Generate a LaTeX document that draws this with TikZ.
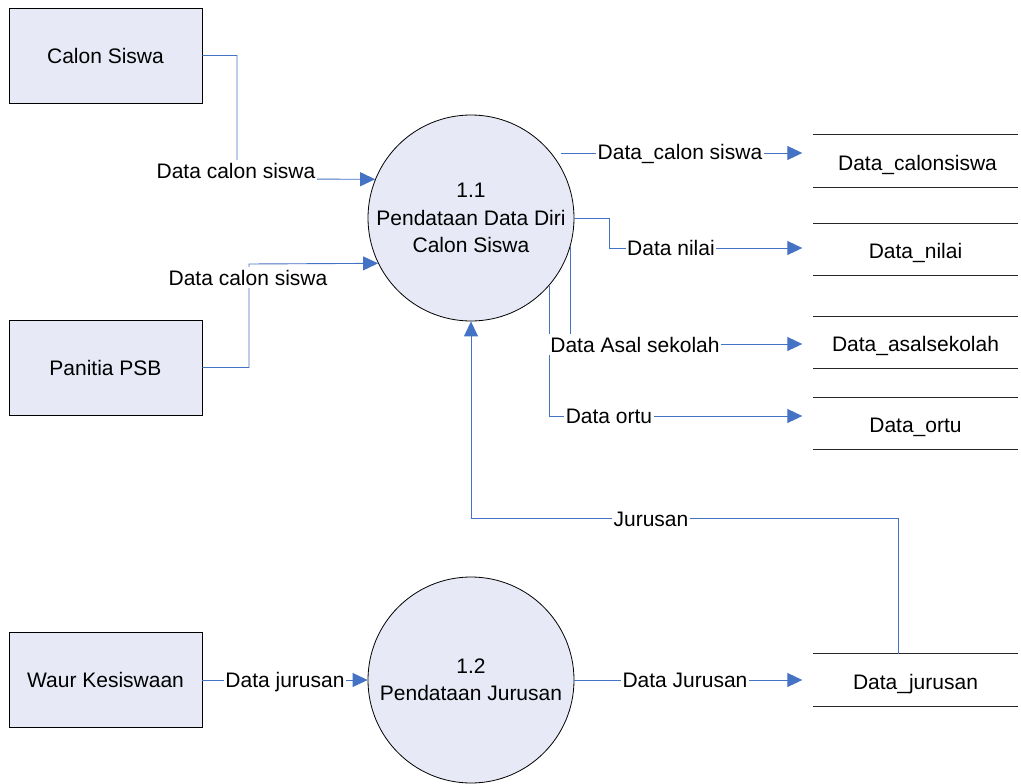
\documentclass[tikz,border=0pt]{standalone}
\usepackage{fontspec}
\setmainfont{Liberation Sans}
\usetikzlibrary{arrows.meta,calc}
\definecolor{flowblue}{RGB}{68,114,196}
\definecolor{shapefill}{RGB}{231,234,246}
\begin{document}
\begin{tikzpicture}[x=1pt,y=-1pt,
  every node/.style={font=\fontsize{21}{27.5}\selectfont},
  entity/.style={draw=black, line width=0.8pt, fill=shapefill,
    minimum width=193pt, minimum height=95pt, inner sep=0pt},
  process/.style={circle, draw=black, line width=0.8pt, fill=shapefill,
    minimum size=206pt, inner sep=0pt, align=center},
  store/.style={minimum width=205pt, minimum height=52pt, inner sep=0pt,
    text height=19pt, text depth=1pt},
  storeline/.style={line width=1.2pt, draw=black!85},
  flow/.style={draw=flowblue, line width=0.9pt,
    -{Triangle[length=15pt,width=14pt,fill=flowblue]}},
  tostore/.style={flow, shorten >=10.5pt},
  flowlabel/.style={fill=white, inner xsep=1.5pt, inner ysep=2.5pt, anchor=base},
]
\useasboundingbox (0,0) rectangle (1021,784);

% external entities
\node[entity] (cs) at (105.5,55.5)  {Calon Siswa};
\node[entity] (ps) at (105.5,367.5) {Panitia PSB};
\node[entity] (wk) at (105.5,680)   {Waur Kesiswaan};

% processes
\node[process] (c11) at (471,218) {1.1\\Pendataan Data Diri\\Calon Siswa};
\node[process] (c12) at (471,680) {1.2\\Pendataan Jurusan};

% data stores (open rectangles: top and bottom rules only)
\node[store] (ds1) at (915.5,161)   {\hspace{4pt}Data\_calonsiswa};
\node[store] (ds2) at (915.5,249.5) {Data\_nilai};
\node[store] (ds3) at (915.5,342.5) {Data\_asalsekolah};
\node[store] (ds4) at (915.5,423.5) {Data\_ortu};
\node[store] (ds5) at (915.5,680)   {Data\_jurusan};
\foreach \s in {ds1,ds2,ds3,ds4,ds5}{
  \draw[storeline] (\s.north west) -- (\s.north east)
                   (\s.south west) -- (\s.south east);
}

% data flows
\draw[flow] (cs.east) -| (237,179) -- (c11.158);
\draw[flow] (ps.east) -| (249,264) -- (c11.206.5);
\coordinate (o1) at (561,153);
\draw[tostore] (o1) -- (o1 -| ds1.west);
\draw[tostore] (c11.east) -- ++(35,0) |- ([yshift=1.5pt]ds2.west);
\draw[tostore] (c11.-16) |- ([yshift=-1.5pt]ds3.west);
\draw[tostore] (c11.-41.6) |- ([yshift=7.5pt]ds4.west);
\draw[flow] ([xshift=-17.5pt]ds5.north) |- (471,518) -- (c11.south);
\draw[flow] (wk.east) -- (c12.west);
\draw[tostore] (c12.east) -- (ds5.west);

% flow labels
\node[flowlabel] (l1) at (236,178) {Data calon siswa};
\node[flowlabel] (l2) at (248,285) {Data calon siswa};
\node[flowlabel] (l3) at (680,159) {Data\_calon siswa};
\node[flowlabel] (l4) at (671,255) {Data nilai};
\node[flowlabel] (l5) at (635,352) {Data Asal sekolah};
\node[flowlabel] (l6) at (609,423) {Data ortu};
\node[flowlabel] (l7) at (651,526) {Jurusan};
\node[flowlabel] (l8) at (285,687) {Data jurusan};
\node[flowlabel] (l9) at (685,687) {Data Jurusan};
\end{tikzpicture}
\end{document}
